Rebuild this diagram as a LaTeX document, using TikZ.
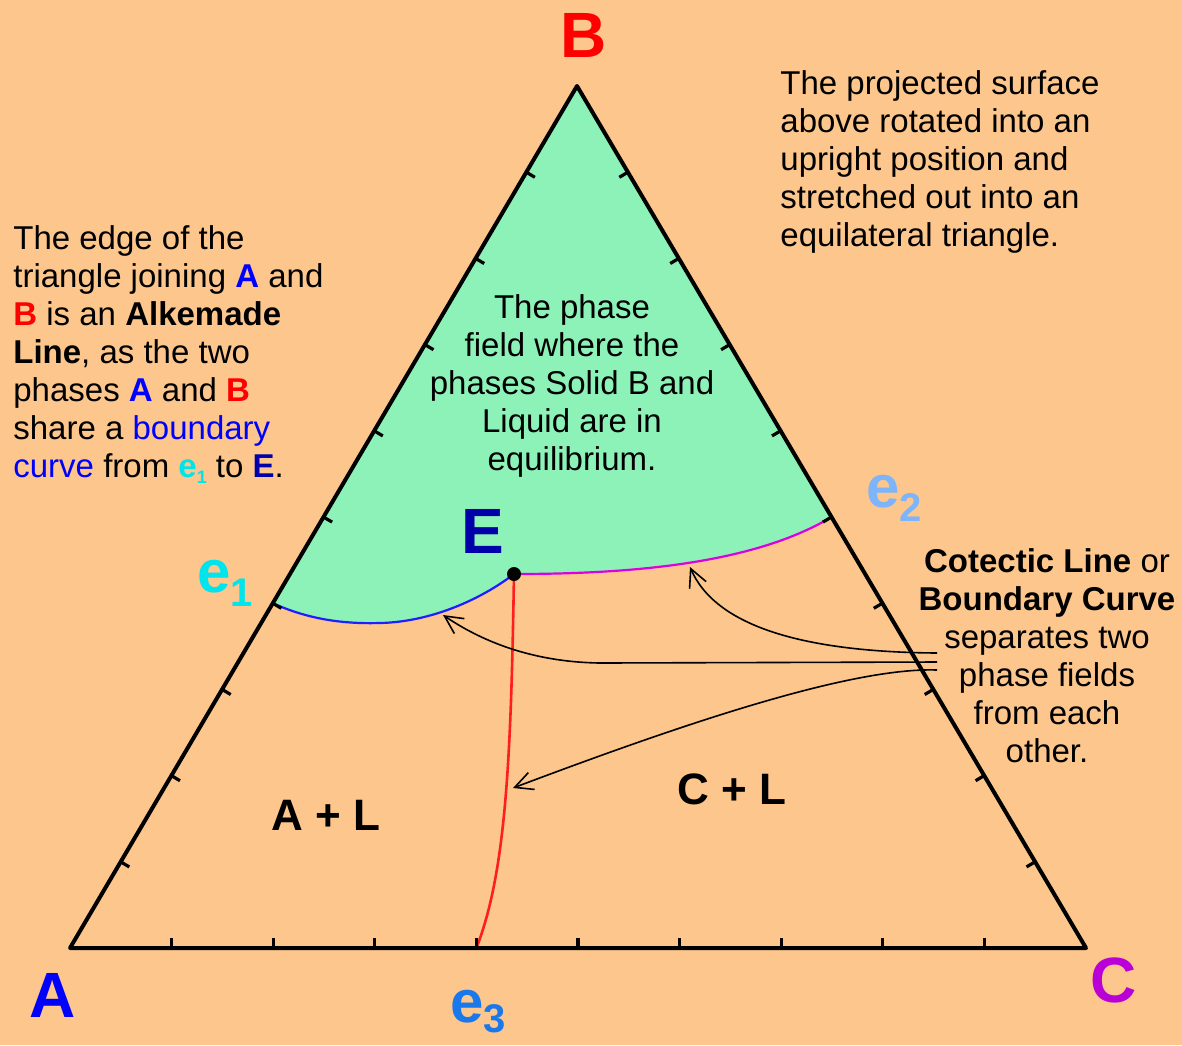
\documentclass[tikz,border=0pt]{standalone}
\usepackage{fontspec}
\setmainfont{Liberation Sans}
\usetikzlibrary{calc,arrows.meta}

\definecolor{peach}{RGB}{252,198,140}
\definecolor{mint}{RGB}{140,242,184}
\definecolor{ecyan}{RGB}{0,228,235}
\definecolor{elight}{RGB}{125,180,250}
\definecolor{emid}{RGB}{25,120,235}
\definecolor{darkE}{RGB}{0,0,170}
\definecolor{cpurple}{RGB}{185,0,215}
\definecolor{curvemag}{RGB}{220,0,220}
\definecolor{curveblue}{RGB}{30,30,255}
\definecolor{curvered}{RGB}{255,30,30}

% e with a lowered index, for the eutectic labels
\newcommand{\esub}[3]{e\raisebox{-#2}{\fontsize{#3}{#3}\selectfont #1}}

\begin{document}
\begin{tikzpicture}[
  x=0.5pt, y=-0.5pt,
  every node/.style={inner sep=0pt},
  sideline/.style={draw, line width=2pt, line join=round},
  tickmark/.style={draw, line width=1.6pt},
  bcurve/.style={draw, line width=1.1pt},
  corner/.style={font=\fontsize{32}{32}\selectfont\bfseries},
  elabel/.style={font=\fontsize{30}{30}\selectfont\bfseries, anchor=base west},
  field/.style={font=\fontsize{22}{22}\selectfont\bfseries},
  note/.style={font=\fontsize{16.5}{19}\selectfont, align=left, anchor=base west},
  pointer/.style={draw, line width=0.8pt, -{Straight Barb[length=9pt,width=9pt]}}]

  % page
  \path[use as bounding box, fill=peach] (0,0) rectangle (1182,1045);

  % corners of the triangle
  \coordinate (A) at (70,948);
  \coordinate (B) at (577,86);
  \coordinate (C) at (1086,948);

  % binary eutectics on the edges, ternary eutectic inside
  \coordinate (e1) at ($(A)!0.4!(B)$);
  \coordinate (e2) at ($(B)!0.5!(C)$);
  \coordinate (e3) at ($(A)!0.4!(C)$);
  \coordinate (E)  at (514,574);

  % B + L field
  \fill[mint] (e1) -- (B) -- (e2) .. controls (750,566) and (620,574) .. (E)
    .. controls (480,600) and (430,622) .. (380,623)
    .. controls (345,624) and (310,620) .. (e1) -- cycle;

  % boundary curves
  \draw[bcurve, curveblue] (e1) .. controls (310,620) and (345,624) .. (380,623)
    .. controls (430,622) and (480,600) .. (E);
  \draw[bcurve, curvemag] (E) .. controls (620,574) and (750,566) .. (e2);
  \draw[bcurve, curvered, line width=1.3pt] (E) .. controls (511,750) and (507,870) .. (e3);

  % triangle and its ticks
  \draw[sideline] (A) -- (B) -- (C) -- cycle;
  \foreach \k in {1,...,9} {
    \draw[tickmark] ($(A)!\k/10!(C)$) -- ++(0,-10);
    \draw[tickmark] ($(A)!\k/10!(B)$) -- ++(8.6,5.1);
    \draw[tickmark] ($(B)!\k/10!(C)$) -- ++(-8.6,5.1);
  }

  \node[circle, fill=black, minimum size=7pt] (Edot) at (E) {};

  % pointers from the note on the right
  \coordinate (t1) at (937,653);
  \coordinate (t2) at (937,662);
  \coordinate (t3) at (937,670);
  \coordinate (h1) at (690,567);
  \coordinate (h2) at (443,615);
  \coordinate (h3) at (513,788);
  \draw[pointer] (t1) .. controls (800,652) and (715,625) .. (h1);
  \draw[pointer] (t2) -- (600,663) .. controls (530,662) and (480,640) .. (h2);
  \draw[pointer] (t3) .. controls (850,667) and (680,725) .. (h3);

  % corner and point labels
  \node[corner, text=red]     (lblB) at (584,35)  {B};
  \node[corner, text=blue]    (lblA) at (53,995)  {A};
  \node[corner, text=cpurple] (lblC) at (1114,980) {C};
  \node[corner, text=darkE]   (lblE) at (483,531) {E};
  \node[elabel, text=ecyan]   (lble1) at (197,592)  {\esub{1}{7pt}{20}};
  \node[elabel, text=elight]  (lble2) at (866,507)  {\esub{2}{7pt}{20}};
  \node[elabel, text=emid]    (lble3) at (450,1022) {\esub{3}{5pt}{20}};

  % phase fields
  \node[field] (AL) at (326,815) {A + L};
  \node[field] (CL) at (732,789) {C + L};

  % notes (anchored at the baseline of their last line)
  \node[note] (alkemade) at (13,477) {The edge of the\\
    triangle joining \textcolor{blue}{\bfseries A} and\\
    \textcolor{red}{\bfseries B} is an \textbf{Alkemade}\\
    \textbf{Line}, as the two\\
    phases \textcolor{blue}{\bfseries A} and \textcolor{red}{\bfseries B}\\
    share a \textcolor{blue}{boundary}\\
    \textcolor{blue}{curve} from \textcolor{ecyan}{\bfseries\esub{1}{3pt}{9}} to \textcolor{darkE}{\bfseries E}.};
  \node[note] (projected) at (780,246) {The projected surface\\
    above rotated into an\\
    upright position and\\
    stretched out into an\\
    equilateral triangle.};
  \node[note, align=center, anchor=base] (bfield) at (572,470) {The phase\\
    field where the\\
    phases Solid B and\\
    Liquid are in\\
    equilibrium.};
  \node[note, align=center, anchor=base] (cotectic) at (1047,762) {\textbf{Cotectic Line} or\\
    \textbf{Boundary Curve}\\
    separates two\\
    phase fields\\
    from each\\
    other.};
\end{tikzpicture}
\end{document}
